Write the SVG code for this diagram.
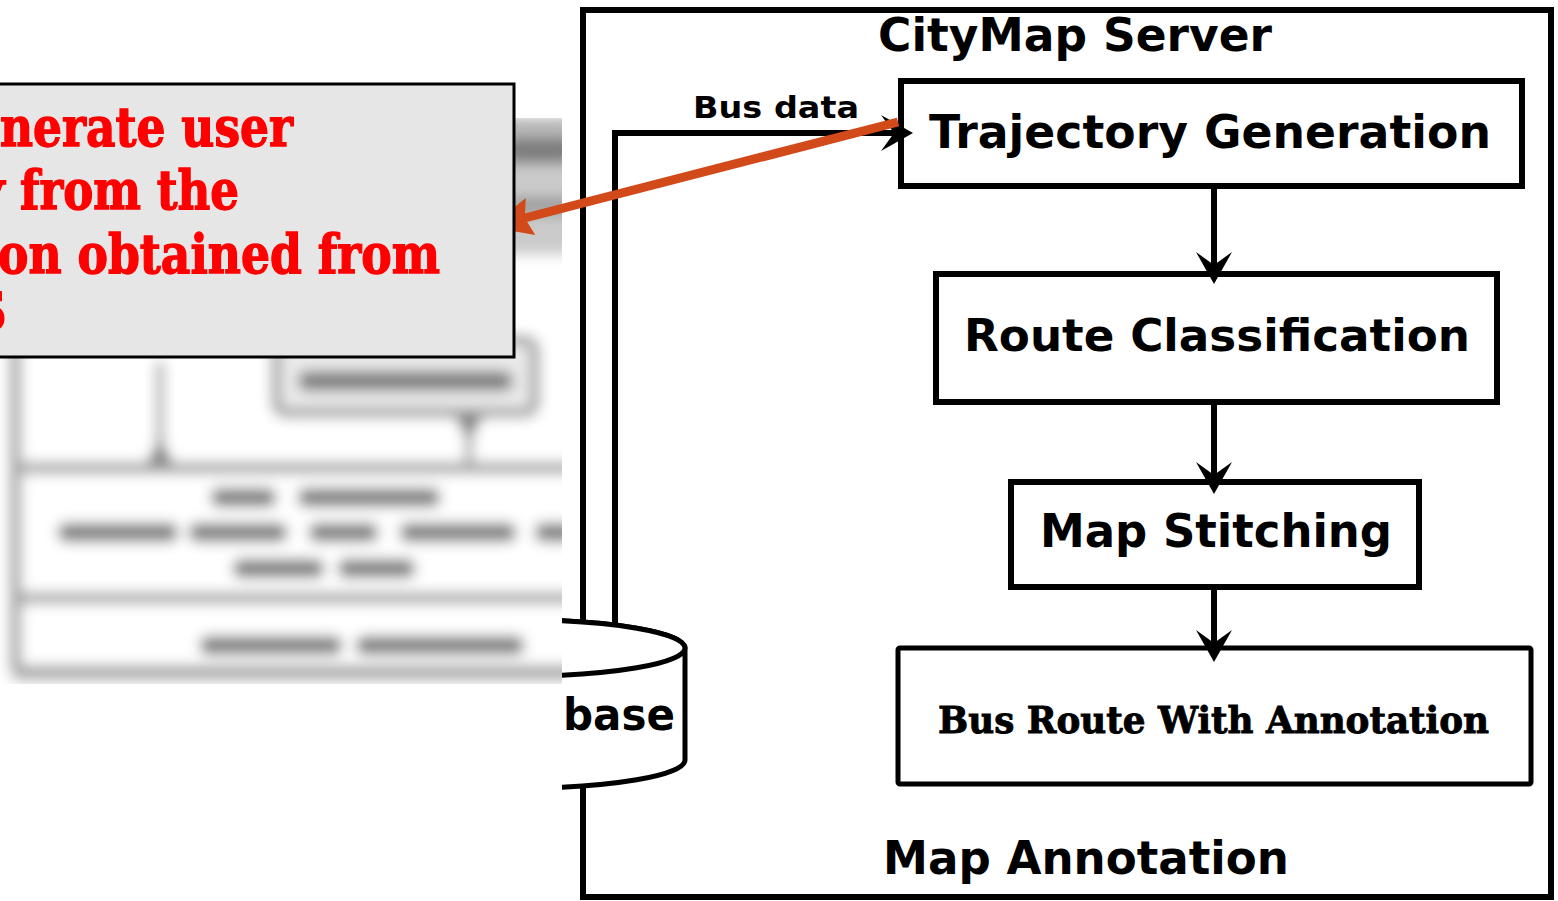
<svg xmlns="http://www.w3.org/2000/svg" width="1558" height="901" viewBox="0 0 1558 901">
  <style>
    .sans { font-family: "DejaVu Sans", "Liberation Sans", sans-serif; font-weight: bold; fill: #000; }
    .slab { font-family: "DejaVu Serif", "Liberation Serif", serif; font-weight: bold; }
    .box { fill: #fff; stroke: #000; stroke-width: 6; }
    .flow { fill: none; stroke: #000; stroke-width: 6; }
    .red { fill: #ff0000; stroke: #ff0000; stroke-width: 1.4; }
    .blob { fill: #7e7e7e; }
    .band { stroke: #a0a0a0; fill: none; }
  </style>
  <defs>
    <marker id="stealth" viewBox="-33 -19 34 38" refX="-16" refY="0" markerWidth="34" markerHeight="38" markerUnits="userSpaceOnUse" orient="auto">
      <path d="M0,0 L-32,-18 L-19,0 L-32,18 Z" fill="#000"/>
    </marker>
    <marker id="orangeHead" viewBox="-44 -22 46 44" refX="-28" refY="0" markerWidth="46" markerHeight="44" markerUnits="userSpaceOnUse" orient="auto">
      <path d="M0,0 L-42,-19 L-36,0 L-42,19 Z" fill="#d24a1a"/>
    </marker>
    <filter id="soft" x="-10%" y="-10%" width="120%" height="120%">
      <feGaussianBlur stdDeviation="6.5"/>
    </filter>
    <clipPath id="rightOfCut">
      <rect x="562" y="0" width="996" height="901"/>
    </clipPath>
    <clipPath id="leftPanel">
      <rect x="0" y="118" width="562" height="566"/>
    </clipPath>
  </defs>

  <rect x="0" y="0" width="1558" height="901" fill="#fff"/>

  <!-- CityMap server frame -->
  <g id="server">
    <rect x="583" y="10" width="968" height="887" fill="#fff" stroke="#000" stroke-width="6"/>
    <text class="sans" x="878" y="51" font-size="46" textLength="394" lengthAdjust="spacingAndGlyphs">CityMap Server</text>
    <text class="sans" x="883" y="874" font-size="47" textLength="406" lengthAdjust="spacingAndGlyphs">Map Annotation</text>
  </g>

  <!-- database cylinder, cut at the panel edge -->
  <g id="database" clip-path="url(#rightOfCut)">
    <path d="M355,648 A165,28 0 0 1 685,648 V760 A165,28 0 0 1 355,760 Z" fill="#fff" stroke="#000" stroke-width="5"/>
    <ellipse cx="520" cy="648" rx="165" ry="28" fill="#fff" stroke="#000" stroke-width="5"/>
    <text class="sans" x="563" y="730" font-size="44" textLength="112" lengthAdjust="spacingAndGlyphs">base</text>
  </g>

  <g id="trajectory-generation">
    <rect class="box" x="901" y="81" width="621" height="105"/>
    <text class="sans" x="929" y="148" font-size="47" textLength="562" lengthAdjust="spacingAndGlyphs">Trajectory Generation</text>
  </g>
  <g id="route-classification">
    <rect class="box" x="936" y="274" width="561" height="128"/>
    <text class="sans" x="964" y="351" font-size="45" textLength="506" lengthAdjust="spacingAndGlyphs">Route Classification</text>
  </g>
  <g id="map-stitching">
    <rect class="box" x="1011" y="482" width="408" height="105"/>
    <text class="sans" x="1040" y="547" font-size="46" textLength="352" lengthAdjust="spacingAndGlyphs">Map Stitching</text>
  </g>
  <g id="bus-route">
    <rect x="898" y="648" width="633" height="136" rx="2" fill="#fff" stroke="#000" stroke-width="5"/>
    <text class="slab" x="938" y="733" font-size="37" fill="#000" stroke="#000" stroke-width="0.9" textLength="551" lengthAdjust="spacingAndGlyphs">Bus Route With Annotation</text>
  </g>

  <g id="connectors">
    <path class="flow" d="M1214,189 V268" marker-end="url(#stealth)"/>
    <path class="flow" d="M1214,405 V478" marker-end="url(#stealth)"/>
    <path class="flow" d="M1214,590 V646" marker-end="url(#stealth)"/>
    <path class="flow" d="M615,625 V133 H897" stroke-width="7" marker-end="url(#stealth)"/>
    <text class="sans" x="693" y="118" font-size="30" textLength="166" lengthAdjust="spacingAndGlyphs">Bus data</text>
  </g>

  <!-- softened overview panel on the left -->
  <g id="overview" clip-path="url(#leftPanel)">
    <g filter="url(#soft)">
      <rect x="8" y="118" width="580" height="566" fill="#f0f0f0"/>
      <rect x="16" y="125" width="600" height="548" rx="8" fill="#fff" stroke="#9a9a9a" stroke-width="10"/>
      <rect x="20" y="128" width="580" height="127" fill="#cbcbcb"/>
      <rect x="505" y="136" width="70" height="28" rx="10" class="blob"/>
      <rect x="505" y="196" width="70" height="20" rx="8" fill="#a0a0a0"/>
      <rect x="276" y="340" width="259" height="73" rx="10" fill="#eaeaea" stroke="#969696" stroke-width="9"/>
      <rect x="298" y="371" width="215" height="20" rx="9" class="blob"/>
      <path class="band" d="M160,362 V458" stroke-width="8"/>
      <path d="M160,438 L146,464 L174,464 Z" fill="#7a7a7a"/>
      <path class="band" d="M469,413 V463" stroke-width="8"/>
      <path d="M455,416 L483,416 L469,442 Z" fill="#7a7a7a"/>
      <path class="band" d="M16,468 H600" stroke-width="11"/>
      <rect x="211" y="488" width="65" height="19" rx="8" class="blob"/>
      <rect x="298" y="488" width="142" height="19" rx="8" class="blob"/>
      <rect x="58" y="523" width="120" height="19" rx="8" class="blob"/>
      <rect x="189" y="523" width="98" height="19" rx="8" class="blob"/>
      <rect x="309" y="523" width="69" height="19" rx="8" class="blob"/>
      <rect x="400" y="523" width="116" height="19" rx="8" class="blob"/>
      <rect x="535" y="523" width="40" height="19" rx="8" class="blob"/>
      <rect x="233" y="559" width="91" height="19" rx="8" class="blob"/>
      <rect x="338" y="559" width="77" height="19" rx="8" class="blob"/>
      <path class="band" d="M16,598 H600" stroke-width="11"/>
      <rect x="200" y="636" width="142" height="19" rx="8" class="blob"/>
      <rect x="356" y="636" width="168" height="19" rx="8" class="blob"/>
      <path class="band" d="M16,672 H600" stroke-width="13"/>
    </g>
  </g>

  <!-- pointer from the trajectory step to the callout -->
  <g id="pointer">
    <path d="M898,122 L517,220" fill="none" stroke="#d24a1a" stroke-width="9" marker-end="url(#orangeHead)"/>
  </g>

  <g id="callout">
    <rect x="-5" y="84" width="519" height="273" fill="#e6e6e6" stroke="#000" stroke-width="3"/>
    <text class="slab red" x="0" y="146" font-size="54" textLength="293" lengthAdjust="spacingAndGlyphs">nerate user</text>
    <text class="slab red" x="-27" y="209" font-size="54">y</text>
    <text class="slab red" x="20" y="209" font-size="54" textLength="219" lengthAdjust="spacingAndGlyphs">from the</text>
    <text class="slab red" x="-2" y="273" font-size="54" textLength="442" lengthAdjust="spacingAndGlyphs">on obtained from</text>
    <text class="slab red" x="-32" y="330" font-size="54">S</text>
  </g>
</svg>
